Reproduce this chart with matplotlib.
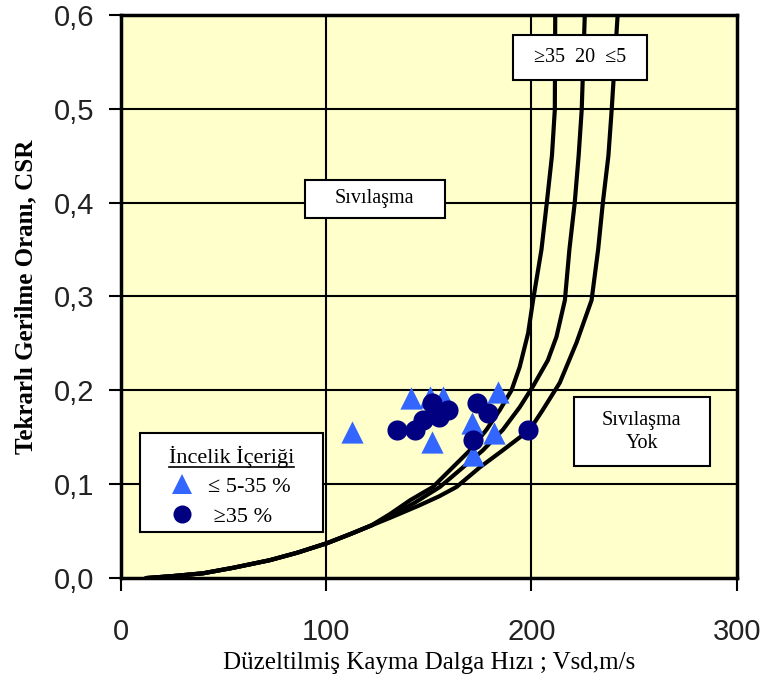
import matplotlib.pyplot as plt
from matplotlib.patches import Rectangle
from matplotlib.lines import Line2D

# measured points (Vs1, CSR)
tri_vs = [112.5, 141.3, 150.5, 156.8, 183.6, 171.0, 151.5, 182.0, 171.5]
tri_csr = [0.156, 0.192, 0.193, 0.193, 0.198, 0.165, 0.145, 0.155, 0.131]
circ_vs = [134.4, 143.2, 151.5, 159.3, 147.0, 155.0, 173.4, 178.8, 171.5, 198.2]
circ_csr = [0.158, 0.158, 0.187, 0.179, 0.168, 0.172, 0.187, 0.176, 0.147, 0.158]

# boundary curves
low_vs = [12.7, 25.0, 40.0, 55.0, 72.6, 86.0, 100.3, 112.0, 122.0]
low_csr = [0.0, 0.002, 0.005, 0.011, 0.019, 0.027, 0.037, 0.047, 0.056]
fc35_vs = [131.0, 141.0, 152.0, 161.7, 170.0, 178.1, 184.6, 190.3, 194.3, 198.4, 200.8, 204.9, 207.5, 210.0, 211.4, 211.6]
fc35_csr = [0.068, 0.083, 0.097, 0.118, 0.136, 0.158, 0.179, 0.200, 0.225, 0.261, 0.296, 0.350, 0.400, 0.450, 0.499, 0.600]
fc20_vs = [131.0, 143.0, 155.4, 165.1, 176.3, 186.1, 194.3, 200.7, 208.0, 212.2, 216.3, 218.5, 221.1, 223.0, 224.5, 226.0]
fc20_csr = [0.066, 0.080, 0.097, 0.115, 0.136, 0.158, 0.182, 0.204, 0.232, 0.257, 0.296, 0.350, 0.400, 0.450, 0.499, 0.600]
fc5_vs = [131.0, 145.0, 155.0, 163.5, 174.9, 186.0, 199.2, 205.5, 213.8, 222.0, 229.3, 232.5, 234.8, 237.5, 239.1, 242.0]
fc5_csr = [0.064, 0.077, 0.087, 0.097, 0.118, 0.136, 0.158, 0.179, 0.208, 0.251, 0.296, 0.350, 0.400, 0.450, 0.499, 0.600]

xticks = [0, 100, 200, 300]
yticks = [0.0, 0.1, 0.2, 0.3, 0.4, 0.5, 0.6]
ytick_labels = ["0,0", "0,1", "0,2", "0,3", "0,4", "0,5", "0,6"]

serif = ["Liberation Serif", "DejaVu Serif"]

fig = plt.figure(figsize=(7.65, 6.8), dpi=100)
ax = fig.add_axes([0.158, 0.150, 0.805, 0.828])
ax.set_facecolor("#FFFFCC")

for v in xticks[1:-1]:
    ax.axvline(v, color="black", lw=1.5, zorder=1)
for v in yticks[1:-1]:
    ax.axhline(v, color="black", lw=1.5, zorder=1)

for xs, ys in [(fc35_vs, fc35_csr), (fc20_vs, fc20_csr), (fc5_vs, fc5_csr)]:
    ax.plot(low_vs + xs, low_csr + ys, color="black", lw=3, zorder=2, solid_joinstyle="round")

ax.scatter(tri_vs, tri_csr, marker="^", s=16**2, color="#3366FF", linewidths=0, zorder=4)
ax.scatter(circ_vs, circ_csr, marker="o", s=14.5**2, color="#000080", linewidths=0, zorder=5)

ax.set_xlim(0, 300)
ax.set_ylim(0, 0.6)
ax.set_xticks(xticks)
ax.set_yticks(yticks)
ax.set_yticklabels(ytick_labels)
ax.tick_params(direction="out", length=9, width=1.5, labelsize=21, colors="black")
for lab in ax.get_xticklabels() + ax.get_yticklabels():
    lab.set_family("Liberation Sans")
    lab.set_color("#222222")
ax.tick_params(axis="x", pad=20)
ax.tick_params(axis="y", pad=10)
for sp in ax.spines.values():
    sp.set_linewidth(2.5)

ax.set_xlabel("Düzeltilmiş Kayma Dalga Hızı ; Vsd,m/s", family=serif, fontsize=18, labelpad=4)
ax.set_ylabel("Tekrarlı Gerilme Oranı, CSR", family=serif, fontsize=18, fontweight="bold", labelpad=12)

# text boxes
boxes = [
    ((191.0, 0.531), 65.5, 0.048, "≥35  20  ≤5", 14.5),
    ((89.6, 0.384), 68.2, 0.040, "Sıvılaşma", 14.5),
    ((220.7, 0.119), 66.2, 0.074, "Sıvılaşma\nYok", 14.5),
]
for (x0, y0), w, h, txt, fs in boxes:
    ax.add_patch(Rectangle((x0, y0), w, h, facecolor="white", edgecolor="black", lw=1.5, zorder=6))
    ax.text(x0 + w / 2, y0 + h / 2, txt, ha="center", va="center", family=serif,
            fontsize=fs, zorder=7, linespacing=1.3)

# legend: frame drawn separately to match the wider box
ax.add_patch(Rectangle((0.031, 0.082), 0.297, 0.176, transform=ax.transAxes,
                       facecolor="white", edgecolor="black", lw=1.5, zorder=7))
handles = [
    Line2D([], [], marker="^", ls="none", color="#3366FF", markersize=15, markeredgewidth=0),
    Line2D([], [], marker="o", ls="none", color="#000080", markersize=13, markeredgewidth=0),
]
leg = ax.legend(handles, ["≤ 5-35 %", " ≥35 %"], title="İncelik İçeriği",
                loc="upper center", bbox_to_anchor=(0.1795, 0.247), borderaxespad=0,
                prop={"family": serif, "size": 16}, title_fontproperties={"family": serif, "size": 16},
                frameon=False, handletextpad=0.7, labelspacing=0.4, borderpad=0.3,
                handlelength=0.9)
leg.set_zorder(8)

fig.canvas.draw()
bb = leg.get_title().get_window_extent()
inv = fig.transFigure.inverted()
(x0, y0), (x1, _) = inv.transform([(bb.x0, bb.y0 + 1), (bb.x1, bb.y0)])
fig.add_artist(Line2D([x0, x1], [y0, y0], color="black", lw=1.2, zorder=10))

fig.savefig("out.png", dpi=100)
